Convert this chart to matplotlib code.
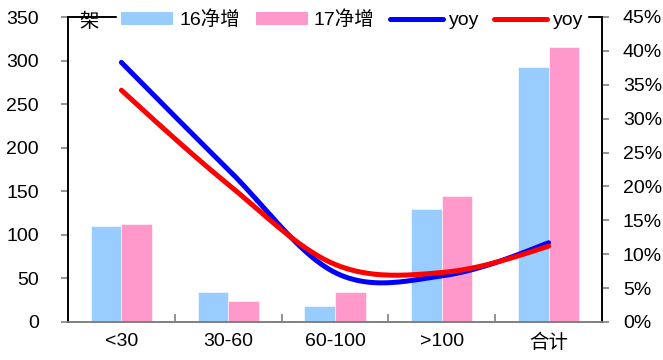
import matplotlib
matplotlib.use("Agg")
import matplotlib.pyplot as plt
import numpy as np
from matplotlib.lines import Line2D
from matplotlib.patches import Patch
from matplotlib.ticker import FuncFormatter, MultipleLocator

plt.rcParams["font.family"] = ["Liberation Sans", "Noto Sans CJK SC"]

categories = ["<30", "30-60", "60-100", ">100", "合计"]
net_16 = [110, 35, 18, 130, 293]
net_17 = [112, 24, 35, 145, 316]
yoy_16 = [0.383, 0.225, 0.073, 0.068, 0.117]
yoy_17 = [0.342, 0.203, 0.085, 0.073, 0.112]

BLUE_BAR = "#99CCFF"
PINK_BAR = "#FF99CC"


def smooth(xs, ys, steps=40):
    """Catmull-Rom curve through the points, like a spreadsheet 'smoothed line'."""
    xs = np.asarray(xs, dtype=float)
    ys = np.asarray(ys, dtype=float)
    n = len(ys)
    m = np.empty(n)
    m[1:-1] = (ys[2:] - ys[:-2]) / (xs[2:] - xs[:-2])
    # end tangents: reflect the neighbour, then soften towards the chord
    m[0] = 2 * (ys[1] - ys[0]) / (xs[1] - xs[0]) - m[1]
    m[-1] = 2 * (ys[-1] - ys[-2]) / (xs[-1] - xs[-2]) - m[-2]
    m[0] = (m[0] + (ys[1] - ys[0])) / 2
    m[-1] = (m[-1] + (ys[-1] - ys[-2])) / 2
    out_x, out_y = [], []
    for i in range(n - 1):
        h = xs[i + 1] - xs[i]
        t = np.linspace(0, 1, steps, endpoint=(i == n - 2))
        h00 = 2 * t**3 - 3 * t**2 + 1
        h10 = t**3 - 2 * t**2 + t
        h01 = -2 * t**3 + 3 * t**2
        h11 = t**3 - t**2
        out_x.append(xs[i] + t * h)
        out_y.append(h00 * ys[i] + h10 * h * m[i] + h01 * ys[i + 1] + h11 * h * m[i + 1])
    return np.concatenate(out_x), np.concatenate(out_y)


fig = plt.figure(figsize=(6.63, 3.6), dpi=100)
ax = fig.add_axes([68 / 663, 1 - 322 / 360, (602 - 68) / 663, (322 - 17) / 360])
ax2 = ax.twinx()

x = np.arange(len(categories))
w = 0.286
ax.bar(x - w / 2, net_16, width=w, color=BLUE_BAR, edgecolor="white", linewidth=0.4, zorder=2)
ax.bar(x + w / 2, net_17, width=w, color=PINK_BAR, edgecolor="white", linewidth=0.4, zorder=2)

ax.set_xlim(-0.5, len(categories) - 0.5)
ax.set_ylim(0, 350)
ax.yaxis.set_major_locator(MultipleLocator(50))
ax.set_xticks(x)
ax.set_xticklabels(categories, fontsize=14)
ax.set_xticks(np.arange(len(categories) - 1) + 0.5, minor=True)
ax.tick_params(axis="x", which="major", length=0, pad=8)
ax.tick_params(axis="x", which="minor", direction="in", length=6, color="#808080", width=1.2)
ax.tick_params(axis="y", direction="out", length=5, color="#808080", width=1.2, labelsize=14, pad=16)

xs, ys = smooth(x, yoy_16)
ax2.plot(xs, ys, color="#0000FF", lw=3.6, solid_capstyle="round", zorder=3)
xs, ys = smooth(x, yoy_17)
ax2.plot(xs, ys, color="#FF0000", lw=3.6, solid_capstyle="round", zorder=4)

ax2.set_ylim(0, 0.45)
ax2.yaxis.set_major_locator(MultipleLocator(0.05))
ax2.yaxis.set_major_formatter(FuncFormatter(lambda v, _: f"{v * 100:.0f}%"))
ax2.tick_params(axis="y", direction="out", length=5, color="#808080", width=1.2, labelsize=14, pad=10)

for a in (ax, ax2):
    a.spines["left"].set_color("black")
    a.spines["right"].set_color("black")
    a.spines["top"].set_color("black")
    a.spines["bottom"].set_color("#808080")
    for s in a.spines.values():
        s.set_linewidth(1.2)

ax.text(79 / 663, 1 - 22 / 360, "架", transform=fig.transFigure, fontsize=14,
        ha="left", va="center", zorder=11)

handles = [
    Patch(facecolor=BLUE_BAR, edgecolor="none"),
    Patch(facecolor=PINK_BAR, edgecolor="none"),
    Line2D([], [], color="#0000FF", lw=3.6, solid_capstyle="round"),
    Line2D([], [], color="#FF0000", lw=3.6, solid_capstyle="round"),
]
labels = ["16净增", "17净增", "yoy", "yoy"]
leg = fig.legend(handles, labels, loc="center", bbox_to_anchor=(352 / 663, 1 - 20 / 360),
                 ncol=4, fontsize=14, frameon=True, facecolor="white", edgecolor="white",
                 framealpha=1, fancybox=False, handlelength=2.7, handletextpad=0.3,
                 columnspacing=0.8, borderpad=0.2, borderaxespad=0)
leg.set_zorder(10)

fig.savefig("out.png", dpi=100)
